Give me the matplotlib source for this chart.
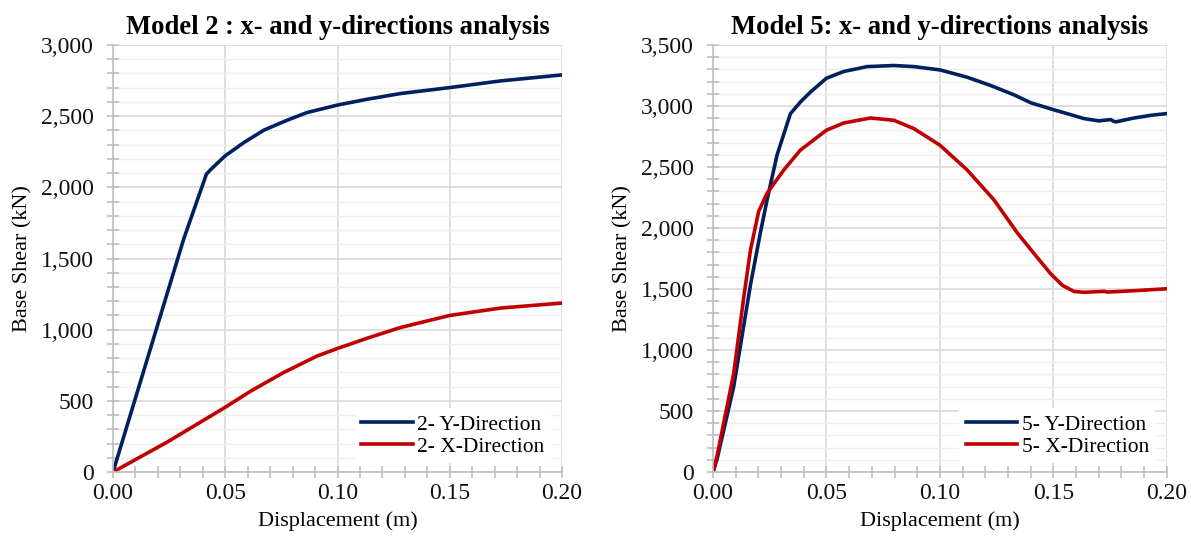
import numpy as np
import matplotlib
matplotlib.use("Agg")
import matplotlib.pyplot as plt
from matplotlib.ticker import MultipleLocator, FuncFormatter

plt.rcParams['font.family'] = ['Liberation Serif', 'DejaVu Serif']

# Model 2 (displacement m, base shear kN)
m2_y_x = [0.0, 0.0315, 0.0416, 0.0435, 0.050, 0.0583, 0.0672, 0.0776, 0.0865,
          0.1002, 0.1132, 0.128, 0.150, 0.1727, 0.200]
m2_y_v = [0, 1638, 2093, 2125, 2222, 2315, 2402, 2472, 2526,
          2579, 2619, 2659, 2701, 2748, 2790]
m2_x_x = [0.0, 0.0241, 0.050, 0.0612, 0.0761, 0.0909, 0.100, 0.1132, 0.128,
          0.150, 0.1727, 0.200]
m2_x_v = [0, 210, 455, 567, 700, 815, 868, 940, 1015,
          1100, 1152, 1187]

# Model 5
m5_y_x = [0.0, 0.0018, 0.0091, 0.0165, 0.0209, 0.0238, 0.0282, 0.0341, 0.0385,
          0.0429, 0.050, 0.0576, 0.0679, 0.0797, 0.0885, 0.100, 0.112, 0.1224,
          0.1326, 0.140, 0.150, 0.1562, 0.1635, 0.170, 0.1753, 0.1765, 0.1775,
          0.1856, 0.193, 0.200]
m5_y_v = [0, 108, 700, 1535, 1966, 2230, 2598, 2937, 3033,
          3114, 3228, 3283, 3323, 3332, 3323, 3296, 3236, 3168,
          3092, 3027, 2970, 2937, 2897, 2878, 2889, 2875, 2870,
          2902, 2924, 2938]
m5_x_x = [0.0, 0.0018, 0.0091, 0.0135, 0.0165, 0.0201, 0.0238, 0.0312, 0.0385,
          0.050, 0.0576, 0.0694, 0.0797, 0.0885, 0.100, 0.112, 0.1238, 0.1341,
          0.1415, 0.1488, 0.154, 0.1591, 0.1635, 0.1724, 0.1738, 0.1856, 0.200]
m5_x_v = [0, 135, 808, 1427, 1820, 2136, 2285, 2476, 2639,
          2802, 2861, 2902, 2883, 2815, 2679, 2476, 2231, 1960,
          1790, 1625, 1530, 1480, 1473, 1481, 1475, 1486, 1502]

BLUE = '#002060'
RED = '#C00000'

fig = plt.figure(figsize=(11.91, 5.36), dpi=100)
ax1 = fig.add_axes([0.0949, 0.1194, 0.377, 0.7966])
ax2 = fig.add_axes([0.5987, 0.1194, 0.381, 0.7966])

def style(ax, ymax, title):
    ax.set_xlim(0, 0.2)
    ax.set_ylim(0, ymax)
    ax.xaxis.set_major_locator(MultipleLocator(0.05))
    ax.xaxis.set_minor_locator(MultipleLocator(0.01))
    ax.yaxis.set_major_locator(MultipleLocator(500))
    ax.yaxis.set_minor_locator(MultipleLocator(100))
    ax.yaxis.set_major_formatter(FuncFormatter(lambda v, p: f"{int(v):,}"))
    ax.xaxis.set_major_formatter(FuncFormatter(lambda v, p: f"{v:.2f}"))
    ax.grid(which='major', axis='both', color='#D9D9D9', lw=1.2)
    ax.grid(which='minor', axis='y', color='#EEEEEE', lw=1.0)
    ax.set_axisbelow(True)
    for s in ['top', 'right']:
        ax.spines[s].set_visible(False)
    for s in ['left', 'bottom']:
        ax.spines[s].set_color('#BFBFBF')
        ax.spines[s].set_linewidth(1.2)
    ax.tick_params(which='both', direction='inout', length=8, width=1.2,
                   color='#BFBFBF', labelsize=17, labelcolor='#111111')
    ax.tick_params(axis='y', pad=10)
    ax.tick_params(axis='x', pad=4)
    ax.set_title(title, fontsize=19.2, fontweight='bold', pad=8)
    ax.set_xlabel('Displacement (m)', fontsize=16, labelpad=5)
    ax.set_ylabel('Base Shear (kN)', fontsize=16, labelpad=6)
    leg = ax.legend(loc='lower right', frameon=True, fontsize=15.5,
                    handlelength=2.4, handletextpad=0.2, labelspacing=0.1,
                    borderpad=0.3, borderaxespad=0, bbox_to_anchor=(0.975, 0.02))
    leg.get_frame().set_edgecolor('none')
    leg.get_frame().set_facecolor('white')
    leg.get_frame().set_alpha(1)
    leg.get_frame().set_boxstyle('square', pad=0)

ax1.plot(m2_y_x, m2_y_v, color=BLUE, lw=2.6, label='2- Y-Direction')
ax1.plot(m2_x_x, m2_x_v, color=RED, lw=2.6, label='2- X-Direction')
style(ax1, 3000, 'Model 2 : x- and y-directions analysis')

ax2.plot(m5_y_x, m5_y_v, color=BLUE, lw=2.6, label='5- Y-Direction')
ax2.plot(m5_x_x, m5_x_v, color=RED, lw=2.6, label='5- X-Direction')
style(ax2, 3500, 'Model 5: x- and y-directions analysis')

fig.savefig('out.png', dpi=100)
